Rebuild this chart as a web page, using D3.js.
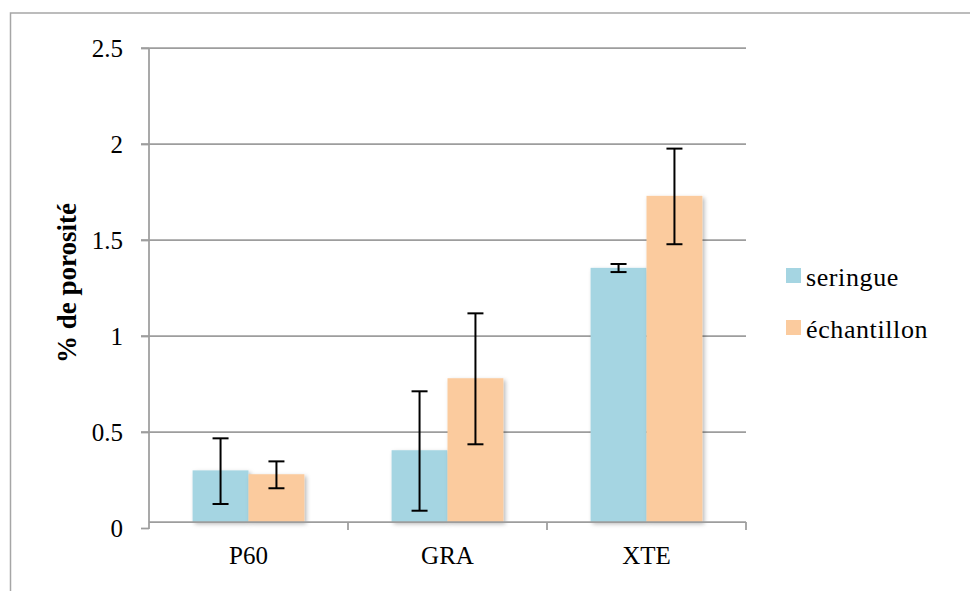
<!DOCTYPE html>
<html>
<head>
<meta charset="utf-8">
<script src="https://cdn.jsdelivr.net/npm/d3@7"></script>
<style>
  html, body { margin: 0; padding: 0; background: #fff; }
  svg { display: block; }
  text { font-family: "Liberation Serif", "Times New Roman", serif; fill: #000; }
</style>
</head>
<body>
<svg id="chart" width="970" height="591"></svg>
<script>
const categories = ["P60", "GRA", "XTE"];
const seriesNames = ["seringue", "échantillon"];
const seringue = [0.30, 0.405, 1.355];
const seringueLow = [0.125, 0.09, 1.333];
const seringueHigh = [0.467, 0.712, 1.375];
const echantillon = [0.28, 0.78, 1.73];
const echantillonLow = [0.207, 0.436, 1.478];
const echantillonHigh = [0.347, 1.118, 1.976];
const yTicks = [0, 0.5, 1, 1.5, 2, 2.5];
const yTickLabels = ["0", "0.5", "1", "1.5", "2", "2.5"];
const colors = ["#A5D5E2", "#FBCB9E"];

const series = [
  { name: seriesNames[0], values: seringue, low: seringueLow, high: seringueHigh, color: colors[0] },
  { name: seriesNames[1], values: echantillon, low: echantillonLow, high: echantillonHigh, color: colors[1] }
];

const svg = d3.select("#chart");
const gridColor = "#9d9d9d";

// outer frame
svg.append("rect").attr("x", 10.5).attr("y", 13).attr("width", 980).attr("height", 600)
  .attr("fill", "none").attr("stroke", "#a6a6a6").attr("stroke-width", 1.5);

const plotLeft = 149, plotRight = 746;
const y = d3.scaleLinear().domain([0, 2.5]).range([528, 48]);
const baseY = y(0) - 6;

const x0 = d3.scaleBand().domain(categories).range([plotLeft, plotRight]).padding(0);
const x1 = d3.scaleBand().domain(seriesNames).range([0, x0.bandwidth()]).paddingInner(0).paddingOuter(0.78);

// defs: shadow
const defs = svg.append("defs");
const f = defs.append("filter").attr("id", "shadow").attr("x", "-20%").attr("y", "-20%").attr("width", "140%").attr("height", "140%");
f.append("feDropShadow").attr("dx", 2).attr("dy", 2).attr("stdDeviation", 2)
  .attr("flood-color", "#000").attr("flood-opacity", 0.28);

// gridlines
svg.append("g").selectAll("line").data(yTicks.filter(d => d > 0)).join("line")
  .attr("x1", plotLeft - 8).attr("x2", plotRight)
  .attr("y1", d => y(d)).attr("y2", d => y(d))
  .attr("stroke", gridColor).attr("stroke-width", 1.75);

// y axis labels via axis generator
const yAxis = d3.axisLeft(y).tickValues(yTicks).tickFormat((d, i) => yTickLabels[i]).tickSize(8).tickPadding(18);
const gy = svg.append("g").attr("transform", `translate(${plotLeft},0)`).call(yAxis);
gy.select(".domain").remove();
gy.selectAll(".tick line").attr("stroke", gridColor).attr("stroke-width", 1.75);
gy.selectAll(".tick text").attr("font-family", "Liberation Serif, serif").attr("font-size", 25).attr("fill", "#000");

// y axis line
svg.append("line").attr("x1", plotLeft).attr("x2", plotLeft).attr("y1", y(2.5)).attr("y2", y(0) + 1)
  .attr("stroke", gridColor).attr("stroke-width", 1.75);

// bars
const groups = svg.append("g").selectAll("g").data(series).join("g");
groups.selectAll("rect").data((s) => categories.map((c, i) => ({ c, v: s.values[i], s }))).join("rect")
  .attr("x", d => x0(d.c) + x1(d.s.name))
  .attr("y", d => y(d.v))
  .attr("width", x1.bandwidth())
  .attr("height", d => baseY - y(d.v))
  .attr("fill", d => d.s.color)
  .attr("filter", "url(#shadow)");

// x axis baseline and ticks
svg.append("line").attr("x1", plotLeft).attr("x2", plotRight).attr("y1", baseY).attr("y2", baseY)
  .attr("stroke", gridColor).attr("stroke-width", 1.75);
const xAxis = d3.axisBottom(x0).tickSize(0).tickPadding(24);
const gx = svg.append("g").attr("transform", `translate(0,${baseY})`).call(xAxis);
gx.select(".domain").remove();
gx.selectAll(".tick text").attr("font-family", "Liberation Serif, serif").attr("font-size", 25).attr("fill", "#000");
const boundaries = categories.map(c => x0(c)).concat([x0(categories[categories.length - 1]) + x0.bandwidth()]).slice(1);
svg.append("g").selectAll("line").data(boundaries).join("line")
  .attr("x1", d => d).attr("x2", d => d).attr("y1", baseY).attr("y2", baseY + 8)
  .attr("stroke", gridColor).attr("stroke-width", 1.75);

// error bars
const capW = 16;
const eb = svg.append("g");
series.forEach(s => {
  categories.forEach((c, i) => {
    const cx = x0(c) + x1(s.name) + x1.bandwidth() / 2;
    eb.append("line").attr("x1", cx).attr("x2", cx).attr("y1", y(s.low[i])).attr("y2", y(s.high[i]))
      .attr("stroke", "#000").attr("stroke-width", 2);
    [s.low[i], s.high[i]].forEach(v => {
      eb.append("line").attr("x1", cx - capW / 2).attr("x2", cx + capW / 2).attr("y1", y(v)).attr("y2", y(v))
        .attr("stroke", "#000").attr("stroke-width", 2);
    });
  });
});

// y axis title
svg.append("text").attr("transform", "translate(76,283) rotate(-90)")
  .attr("text-anchor", "middle").attr("font-weight", "bold").attr("font-size", 27)
  .text("% de porosité");

// legend
const legend = svg.append("g");
series.forEach((s, i) => {
  const ly = 268 + i * 52;
  legend.append("rect").attr("x", 786).attr("y", ly).attr("width", 15).attr("height", 15).attr("fill", s.color);
  legend.append("text").attr("x", 806).attr("y", ly + 18).attr("font-size", 26).attr("letter-spacing", 0.6).text(s.name);
});
</script>
</body>
</html>
